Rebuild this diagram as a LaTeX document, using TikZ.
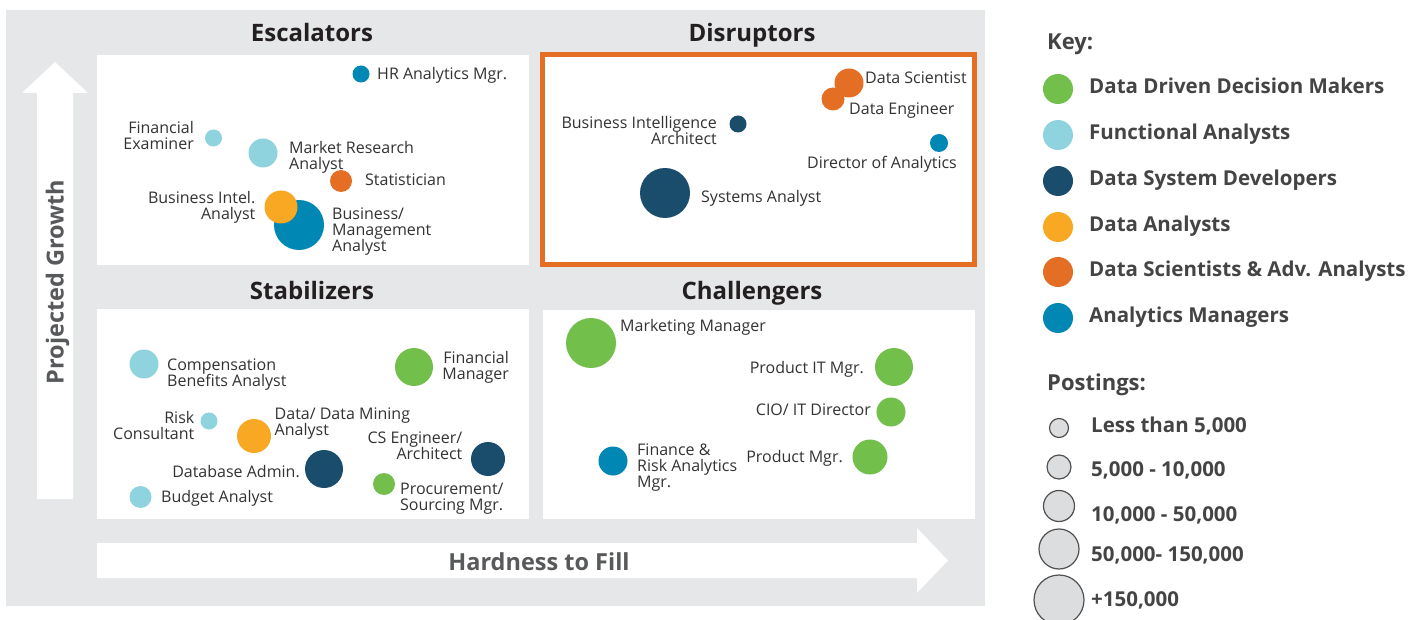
\documentclass[tikz,border=0pt]{standalone}
\usepackage{fontspec}
\setmainfont{Open Sans}
\definecolor{bggray}{HTML}{E6E7E8}
\definecolor{cGreen}{HTML}{72BF4B}
\definecolor{cLight}{HTML}{8FD3DE}
\definecolor{cNavy}{HTML}{1A4C6B}
\definecolor{cYellow}{HTML}{F8A823}
\definecolor{cOrange}{HTML}{E46E24}
\definecolor{cBlue}{HTML}{0087B3}
\definecolor{txt}{HTML}{333333}
\definecolor{keytxt}{HTML}{444444}
\definecolor{axtxt}{HTML}{58595B}
\definecolor{ttl}{HTML}{231F20}
\definecolor{pfill}{HTML}{DCDDDF}
\definecolor{pdraw}{HTML}{505050}
\newcommand{\lblfont}{\fontsize{16}{16}\selectfont\lineskiplimit=-100pt\lineskip=0pt}
\newcommand{\ttlfont}{\fontsize{24}{24}\selectfont\bfseries}
\newcommand{\axfont}{\fontsize{23.5}{23.5}\selectfont\bfseries}
\newcommand{\keyfont}{\fontsize{20.5}{20.5}\selectfont\bfseries}
\newcommand{\keyhfont}{\fontsize{22}{22}\selectfont\bfseries}
\newcommand{\hs}{\rule{0pt}{11.2pt}}
\tikzset{
  dot/.style={circle, inner sep=0pt, outer sep=0pt, draw=none},
  lblL/.style={font=\lblfont, text=txt, inner sep=0pt, align=left, anchor=north west},
  lblR/.style={font=\lblfont, text=txt, inner sep=0pt, align=right, anchor=north east},
  ttlnode/.style={font=\ttlfont, text=ttl, inner sep=0pt, anchor=base},
  axnode/.style={font=\axfont, text=axtxt, inner sep=0pt, anchor=base},
  keylbl/.style={font=\keyfont, text=keytxt, inner sep=0pt, anchor=base west},
  keyhead/.style={font=\keyhfont, text=keytxt, inner sep=0pt, anchor=base west},
  pdot/.style={circle, inner sep=0pt, outer sep=0pt, fill=pfill, draw=pdraw, line width=1.2pt},
  panel/.style={fill=white},
}
\begin{document}
\begin{tikzpicture}[x=1pt,y=-1pt]
\useasboundingbox (0,0) rectangle (1424,620);
\fill[white] (0,0) rectangle (1424,620);
\fill[bggray] (6,10) rectangle (985,606);
% panels
\fill[panel] (97,55) rectangle (529,265);
\fill[panel] (97,309) rectangle (529,519);
\fill[panel] (540,52) rectangle (977,267);
\draw[cOrange, line width=5pt] (542.5,54.5) rectangle (974.5,264.5);
\fill[panel] (543,310) rectangle (975,519);
% axis arrows
\fill[white] (37,499) -- (37,93) -- (22,93) -- (55,62) -- (88,93) -- (73,93) -- (73,499) -- cycle;
\fill[white] (97,543) -- (917,543) -- (917,528) -- (948,560.5) -- (917,593) -- (917,578) -- (97,578) -- cycle;
\node[axnode, rotate=90] (ylab) at (63.5,282) {Projected Growth};
\node[axnode] (xlab) at (539,570) {Hardness to Fill};
% titles
\node[ttlnode] (tEsc) at (312,42) {Escalators};
\node[ttlnode] (tDis) at (752,42) {Disruptors};
\node[ttlnode] (tSta) at (312,299) {Stabilizers};
\node[ttlnode] (tCha) at (752,299) {Challengers};
% Escalators
\node[dot, fill=cBlue, minimum size=17pt] (hr) at (361,74) {};
\node[lblL] (hrL) at (377,67.5) {\hs HR Analytics Mgr.};
\node[dot, fill=cLight, minimum size=17pt] (fe) at (213.5,138) {};
\node[lblR] (feL) at (194,121.5) {\hs Financial\\Examiner};
\node[dot, fill=cLight, minimum size=29pt] (mr) at (263,153) {};
\node[lblL] (mrL) at (289,141.5) {\hs Market Research\\Analyst};
\node[dot, fill=cOrange, minimum size=22pt] (st) at (341,181) {};
\node[lblL] (stL) at (365,173.5) {\hs Statistician};
\node[dot, fill=cBlue, minimum size=50pt] (bm) at (299,225) {};
\node[lblL] (bmL) at (332,207.5) {\hs Business/\\Management\\Analyst};
\node[dot, fill=cYellow, minimum size=33pt] (bi) at (281,207) {};
\node[lblR] (biL) at (255.5,191.5) {\hs Business Intel.\\Analyst};
% Disruptors
\node[dot, fill=cOrange, minimum size=23pt] (de) at (833,99) {};
\node[lblL] (deL) at (849,102.5) {\hs Data Engineer};
\node[dot, fill=cOrange, minimum size=29pt] (ds) at (849,83) {};
\node[lblL] (dsL) at (865,71.5) {\hs Data Scientist};
\node[dot, fill=cNavy, minimum size=17pt] (ba) at (738,124) {};
\node[lblR] (baL) at (717,116.5) {\hs Business Intelligence\\Architect};
\node[dot, fill=cBlue, minimum size=18pt] (do) at (939,143) {};
\node[lblR] (doL) at (957,156.5) {\hs Director of Analytics};
\node[dot, fill=cNavy, minimum size=50pt] (sa) at (665,193) {};
\node[lblL] (saL) at (701,190.5) {\hs Systems Analyst};
% Stabilizers
\node[dot, fill=cLight, minimum size=29pt] (cb) at (144,364) {};
\node[lblL] (cbL) at (167,358.5) {\hs Compensation\\Benefits Analyst};
\node[dot, fill=cGreen, minimum size=38pt] (fm) at (414,367) {};
\node[lblR] (fmL) at (509,351.5) {\hs Financial\\Manager};
\node[dot, fill=cLight, minimum size=17pt] (rc) at (209,421) {};
\node[lblR] (rcL) at (194.5,411.5) {\hs Risk\\Consultant};
\node[dot, fill=cYellow, minimum size=34pt] (dm) at (254,436) {};
\node[lblL] (dmL) at (274.5,407.5) {\hs Data/ Data Mining\\Analyst};
\node[dot, fill=cNavy, minimum size=34pt] (cs) at (488,459) {};
\node[lblR] (csL) at (462.5,431.5) {\hs CS Engineer/\\Architect};
\node[dot, fill=cNavy, minimum size=38pt] (da) at (324,469) {};
\node[lblR] (daL) at (300,465.5) {\hs Database Admin.};
\node[dot, fill=cGreen, minimum size=22pt] (pr) at (384,484) {};
\node[lblL] (prL) at (400,482.5) {\hs Procurement/\\Sourcing Mgr.};
\node[dot, fill=cLight, minimum size=22pt] (bu) at (140.5,497) {};
\node[lblL] (buL) at (161,490.5) {\hs Budget Analyst};
% Challengers
\node[dot, fill=cGreen, minimum size=50pt] (mm) at (591,343) {};
\node[lblL] (mmL) at (620,319.5) {\hs Marketing Manager};
\node[dot, fill=cGreen, minimum size=38pt] (pi) at (894,367) {};
\node[lblR] (piL) at (864,361.5) {\hs Product IT Mgr.};
\node[dot, fill=cGreen, minimum size=29pt] (ci) at (891,412) {};
\node[lblR] (ciL) at (871,403.5) {\hs CIO/ IT Director};
\node[dot, fill=cGreen, minimum size=35pt] (pm) at (870,457) {};
\node[lblR] (pmL) at (843,450.5) {\hs Product Mgr.};
\node[dot, fill=cBlue, minimum size=29pt] (fr) at (613,461) {};
\node[lblL] (frL) at (637,443.5) {\hs Finance \&\\Risk Analytics\\Mgr.};
% Key
\node[keyhead] (keyH) at (1047,50) {Key:};
\node[dot, fill=cGreen, minimum size=30pt] (k1) at (1058,89) {};
\node[keylbl] (k1L) at (1089,94) {Data Driven Decision Makers};
\node[dot, fill=cLight, minimum size=30pt] (k2) at (1058,135) {};
\node[keylbl] (k2L) at (1089,140) {Functional Analysts};
\node[dot, fill=cNavy, minimum size=30pt] (k3) at (1058,181) {};
\node[keylbl] (k3L) at (1089,186) {Data System Developers};
\node[dot, fill=cYellow, minimum size=30pt] (k4) at (1058,227) {};
\node[keylbl] (k4L) at (1089,232) {Data Analysts};
\node[dot, fill=cOrange, minimum size=30pt] (k5) at (1058,272) {};
\node[keylbl] (k5L) at (1089,277) {Data Scientists \& Adv. Analysts};
\node[dot, fill=cBlue, minimum size=30pt] (k6) at (1058,318) {};
\node[keylbl] (k6L) at (1089,323) {Analytics Managers};
% Postings
\node[keyhead] (posH) at (1047,390) {Postings:};
\node[pdot, minimum size=19pt] (p1) at (1059,428) {};
\node[keylbl] (p1L) at (1091,432) {Less than 5,000};
\node[pdot, minimum size=24pt] (p2) at (1059,467) {};
\node[keylbl] (p2L) at (1091,476) {5,000 - 10,000};
\node[pdot, minimum size=31pt] (p3) at (1059,506) {};
\node[keylbl] (p3L) at (1091,521) {10,000 - 50,000};
\node[pdot, minimum size=40pt] (p4) at (1059,549) {};
\node[keylbl] (p4L) at (1091,561) {50,000- 150,000};
\node[pdot, minimum size=50pt] (p5) at (1059,600) {};
\node[keylbl] (p5L) at (1091,606) {+150,000};
\end{tikzpicture}
\end{document}
